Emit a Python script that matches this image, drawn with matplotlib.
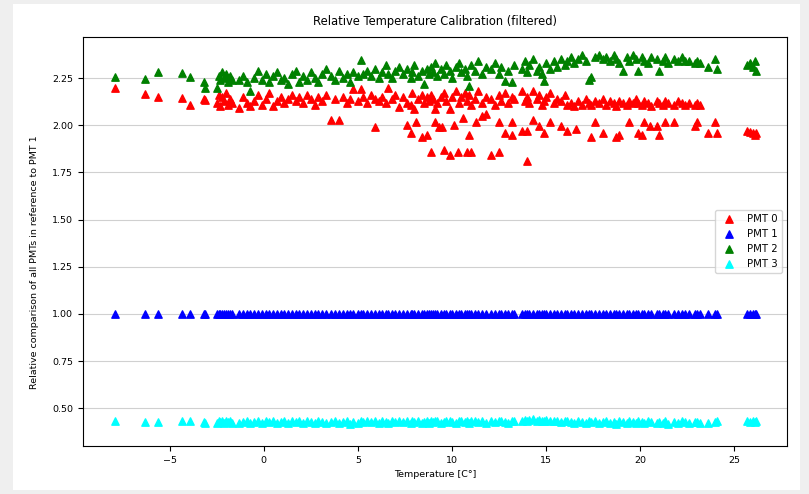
import matplotlib
matplotlib.use("Agg")
import matplotlib.pyplot as plt
import numpy as np
from matplotlib.patches import Rectangle

# temperatures shared by all PMTs [C]
temps = [
    -7.9, -6.3, -5.6, -4.35, -3.9, -3.15, -3.1, -2.5, -2.4, -2.3,
    -2.2, -2.1, -2.0, -1.9, -1.8, -1.7, -1.3, -1.1, -0.9, -0.75,
    -0.5, -0.3, -0.1, 0.1, 0.3, 0.5, 0.7, 0.9, 1.1, 1.3,
    1.5, 1.7, 1.9, 2.1, 2.3, 2.5, 2.7, 2.9, 3.1, 3.3,
    3.6, 3.8, 4.0, 4.2, 4.4, 4.6, 4.75, 5.0, 5.15, 5.3,
    5.5, 5.7, 5.9, 6.1, 6.3, 6.5, 6.6, 6.8, 7.0, 7.2,
    7.4, 7.6, 7.85, 7.9, 8.0, 8.2, 8.4, 8.5, 8.65, 8.8,
    8.9, 9.0, 9.1, 9.2, 9.4, 9.6, 9.7, 9.9, 10.0, 10.2,
    10.4, 10.5, 10.7, 10.8, 10.9, 11.0, 11.2, 11.4, 11.6, 11.8,
    12.1, 12.3, 12.5, 12.6, 12.8, 13.0, 13.2, 13.3, 13.7, 13.9,
    14.0, 14.1, 14.3, 14.5, 14.6, 14.8, 14.9, 15.0, 15.2, 15.4,
    15.6, 15.8, 16.0, 16.1, 16.3, 16.5, 16.7, 16.9, 17.1, 17.3,
    17.4, 17.6, 17.8, 18.0, 18.2, 18.4, 18.6, 18.7, 18.9, 19.1,
    19.3, 19.4, 19.6, 19.8, 19.9, 20.1, 20.2, 20.4, 20.6, 20.9,
    21.0, 21.2, 21.3, 21.5, 21.8, 22.0, 22.2, 22.4, 22.6, 22.9,
    23.0, 23.2, 23.6, 24.0, 24.1, 25.7, 25.85, 26.0, 26.1, 26.15,
]

pmt0 = [
    2.20, 2.165, 2.15, 2.145, 2.105, 2.14, 2.135, 2.12, 2.16, 2.10,
    2.15, 2.13, 2.17, 2.11, 2.14, 2.12, 2.09, 2.15, 2.12, 2.10,
    2.13, 2.16, 2.11, 2.14, 2.17, 2.10, 2.13, 2.15, 2.12, 2.14,
    2.16, 2.13, 2.15, 2.12, 2.16, 2.14, 2.11, 2.15, 2.13, 2.16,
    2.03, 2.14, 2.03, 2.15, 2.12, 2.14, 2.19, 2.13, 2.19, 2.15,
    2.12, 2.16, 2.14, 2.13, 2.15, 2.12, 2.20, 2.14, 2.16, 2.095,
    2.15, 2.12, 2.11, 2.17, 2.085, 2.14, 2.16, 2.12, 2.15, 2.13,
    2.16, 2.14, 2.085, 2.12, 2.15, 2.17, 2.13, 2.085, 2.15, 2.18,
    2.12, 2.15, 2.17, 2.13, 2.16, 2.11, 2.14, 2.18, 2.12, 2.15,
    2.14, 2.11, 2.16, 2.13, 2.17, 2.12, 2.15, 2.14, 2.18, 2.13,
    2.15, 2.12, 2.18, 2.14, 2.16, 2.11, 2.13, 2.15, 2.17, 2.12,
    2.14, 2.13, 2.16, 2.11, 2.12, 2.10, 2.13, 2.11, 2.14, 2.12,
    2.11, 2.13, 2.12, 2.14, 2.11, 2.13, 2.12, 2.10, 2.13, 2.12,
    2.11, 2.13, 2.12, 2.14, 2.12, 2.11, 2.13, 2.12, 2.10, 2.13,
    2.12, 2.11, 2.13, 2.12, 2.11, 2.13, 2.12, 2.11, 2.12, 2.11,
    2.12, 2.11, 1.96, 2.015, 1.96, 1.97, 1.965, 1.96, 1.95, 1.96,
]

# extra PMT 0 readings that dropped below the main band
pmt0_dip_temps = [
    5.9, 7.6, 7.85, 8.1, 8.4, 8.65, 8.9, 9.1, 9.3, 9.45,
    9.6, 9.9, 10.1, 10.3, 10.6, 10.8, 10.9, 11.0, 11.3, 11.6,
    11.8, 12.1, 12.5, 12.5, 12.8, 13.2, 13.2, 13.7, 14.0, 14.0,
    14.3, 14.6, 14.9, 15.2, 15.8, 16.1, 16.6, 17.4, 17.6, 18.0,
    18.7, 18.9, 19.4, 19.9, 20.1, 20.2, 20.5, 20.9, 21.0, 21.3,
    21.8, 22.9, 23.0,
]
pmt0_dips = [
    1.99, 2.00, 1.96, 2.02, 1.94, 1.95, 1.86, 2.02, 1.99, 1.99,
    1.87, 1.845, 2.00, 1.86, 2.04, 1.86, 1.95, 1.86, 2.02, 2.05,
    2.06, 1.845, 1.86, 2.02, 1.96, 2.015, 1.95, 1.97, 1.97, 1.81,
    2.03, 1.995, 1.96, 2.015, 1.995, 1.97, 1.98, 1.94, 2.015, 1.96,
    1.94, 1.95, 2.02, 1.96, 1.95, 2.015, 1.995, 1.995, 1.95, 2.015,
    2.02, 1.995, 2.015,
]

# PMT 1 is the reference, so its ratio is 1 everywhere
pmt1 = [1.0] * len(temps)

pmt2 = [
    2.255, 2.245, 2.285, 2.275, 2.255, 2.23, 2.20, 2.20, 2.26, 2.24,
    2.28, 2.25, 2.27, 2.23, 2.26, 2.24, 2.24, 2.26, 2.23, 2.18,
    2.25, 2.29, 2.24, 2.27, 2.23, 2.26, 2.28, 2.24, 2.25, 2.22,
    2.27, 2.29, 2.23, 2.26, 2.24, 2.28, 2.25, 2.23, 2.27, 2.30,
    2.26, 2.24, 2.29, 2.25, 2.27, 2.23, 2.28, 2.26, 2.345, 2.27,
    2.29, 2.26, 2.30, 2.25, 2.28, 2.32, 2.27, 2.25, 2.29, 2.31,
    2.27, 2.30, 2.25, 2.28, 2.32, 2.26, 2.29, 2.22, 2.30, 2.27,
    2.31, 2.28, 2.33, 2.26, 2.30, 2.27, 2.32, 2.29, 2.25, 2.31,
    2.33, 2.28, 2.30, 2.26, 2.21, 2.32, 2.29, 2.34, 2.27, 2.31,
    2.30, 2.33, 2.27, 2.31, 2.235, 2.29, 2.23, 2.32, 2.30, 2.34,
    2.28, 2.32, 2.35, 2.29, 2.31, 2.27, 2.235, 2.33, 2.30, 2.34,
    2.31, 2.35, 2.32, 2.34, 2.36, 2.33, 2.35, 2.37, 2.34, 2.24,
    2.255, 2.36, 2.37, 2.35, 2.36, 2.34, 2.37, 2.35, 2.33, 2.29,
    2.36, 2.34, 2.37, 2.35, 2.29, 2.36, 2.34, 2.33, 2.36, 2.35,
    2.29, 2.34, 2.36, 2.33, 2.35, 2.34, 2.36, 2.34, 2.34, 2.33,
    2.34, 2.33, 2.31, 2.35, 2.30, 2.32, 2.33, 2.31, 2.34, 2.29,
]

pmt3 = [
    0.43, 0.425, 0.425, 0.43, 0.43, 0.425, 0.42, 0.42, 0.43, 0.425,
    0.43, 0.42, 0.435, 0.425, 0.43, 0.42, 0.42, 0.425, 0.43, 0.42,
    0.425, 0.43, 0.42, 0.435, 0.425, 0.43, 0.42, 0.425, 0.43, 0.42,
    0.43, 0.425, 0.435, 0.42, 0.43, 0.425, 0.42, 0.43, 0.425, 0.42,
    0.425, 0.43, 0.42, 0.425, 0.43, 0.415, 0.425, 0.42, 0.43, 0.425,
    0.43, 0.425, 0.435, 0.42, 0.43, 0.425, 0.42, 0.43, 0.425, 0.43,
    0.425, 0.43, 0.42, 0.435, 0.425, 0.43, 0.42, 0.425, 0.43, 0.42,
    0.43, 0.425, 0.435, 0.43, 0.42, 0.425, 0.43, 0.435, 0.425, 0.42,
    0.43, 0.435, 0.425, 0.43, 0.42, 0.435, 0.43, 0.425, 0.43, 0.42,
    0.43, 0.425, 0.435, 0.43, 0.425, 0.42, 0.43, 0.435, 0.43, 0.44,
    0.435, 0.44, 0.445, 0.43, 0.44, 0.435, 0.43, 0.44, 0.435, 0.43,
    0.43, 0.425, 0.435, 0.43, 0.425, 0.42, 0.43, 0.425, 0.42, 0.43,
    0.425, 0.43, 0.42, 0.425, 0.43, 0.42, 0.425, 0.415, 0.43, 0.425,
    0.42, 0.43, 0.425, 0.42, 0.43, 0.425, 0.42, 0.43, 0.425, 0.42,
    0.425, 0.42, 0.43, 0.415, 0.425, 0.42, 0.43, 0.425, 0.42, 0.425,
    0.425, 0.42, 0.42, 0.425, 0.43, 0.43, 0.425, 0.43, 0.425, 0.43,
]

labels = ["PMT 0", "PMT 1", "PMT 2", "PMT 3"]
colors = ["red", "blue", "green", "cyan"]


def main():
    fig = plt.figure(figsize=(8.09, 4.94), dpi=100)
    fig.patch.set_facecolor("#efefef")
    # white canvas inside the grey screenshot border
    fig.add_artist(Rectangle((13 / 809, 4 / 494), 787 / 809, 486 / 494,
                             transform=fig.transFigure, facecolor="white",
                             edgecolor="none", zorder=-10))

    ax = fig.add_axes([83 / 809, 48 / 494, 704 / 809, 409 / 494])

    series = [
        (np.concatenate([temps, pmt0_dip_temps]), np.concatenate([pmt0, pmt0_dips])),
        (temps, pmt1),
        (temps, pmt2),
        (temps, pmt3),
    ]
    for (x, y), label, color in zip(series, labels, colors):
        ax.scatter(x, y, marker="^", s=28, color=color, label=label, zorder=3)

    ax.set_xlim(-9.6, 27.8)
    ax.set_ylim(0.30, 2.468)
    ax.set_yticks([0.5, 0.75, 1.0, 1.25, 1.5, 1.75, 2.0, 2.25])
    ax.grid(axis="y", color="#d0d0d0", linewidth=0.8)
    ax.set_axisbelow(True)
    ax.tick_params(labelsize=6.8)

    ax.set_title("Relative Temperature Calibration (filtered)", fontsize=8.3, pad=9)
    ax.set_xlabel("Temperature [C°]", fontsize=6.8)
    ax.set_ylabel("Relative comparison of all PMTs in reference to PMT 1", fontsize=6.8)
    ax.yaxis.set_label_coords(-0.063, 0.45)
    ax.legend(loc="center right", fontsize=7.3)

    fig.savefig("out.png", dpi=100, facecolor=fig.get_facecolor())


if __name__ == "__main__":
    main()
